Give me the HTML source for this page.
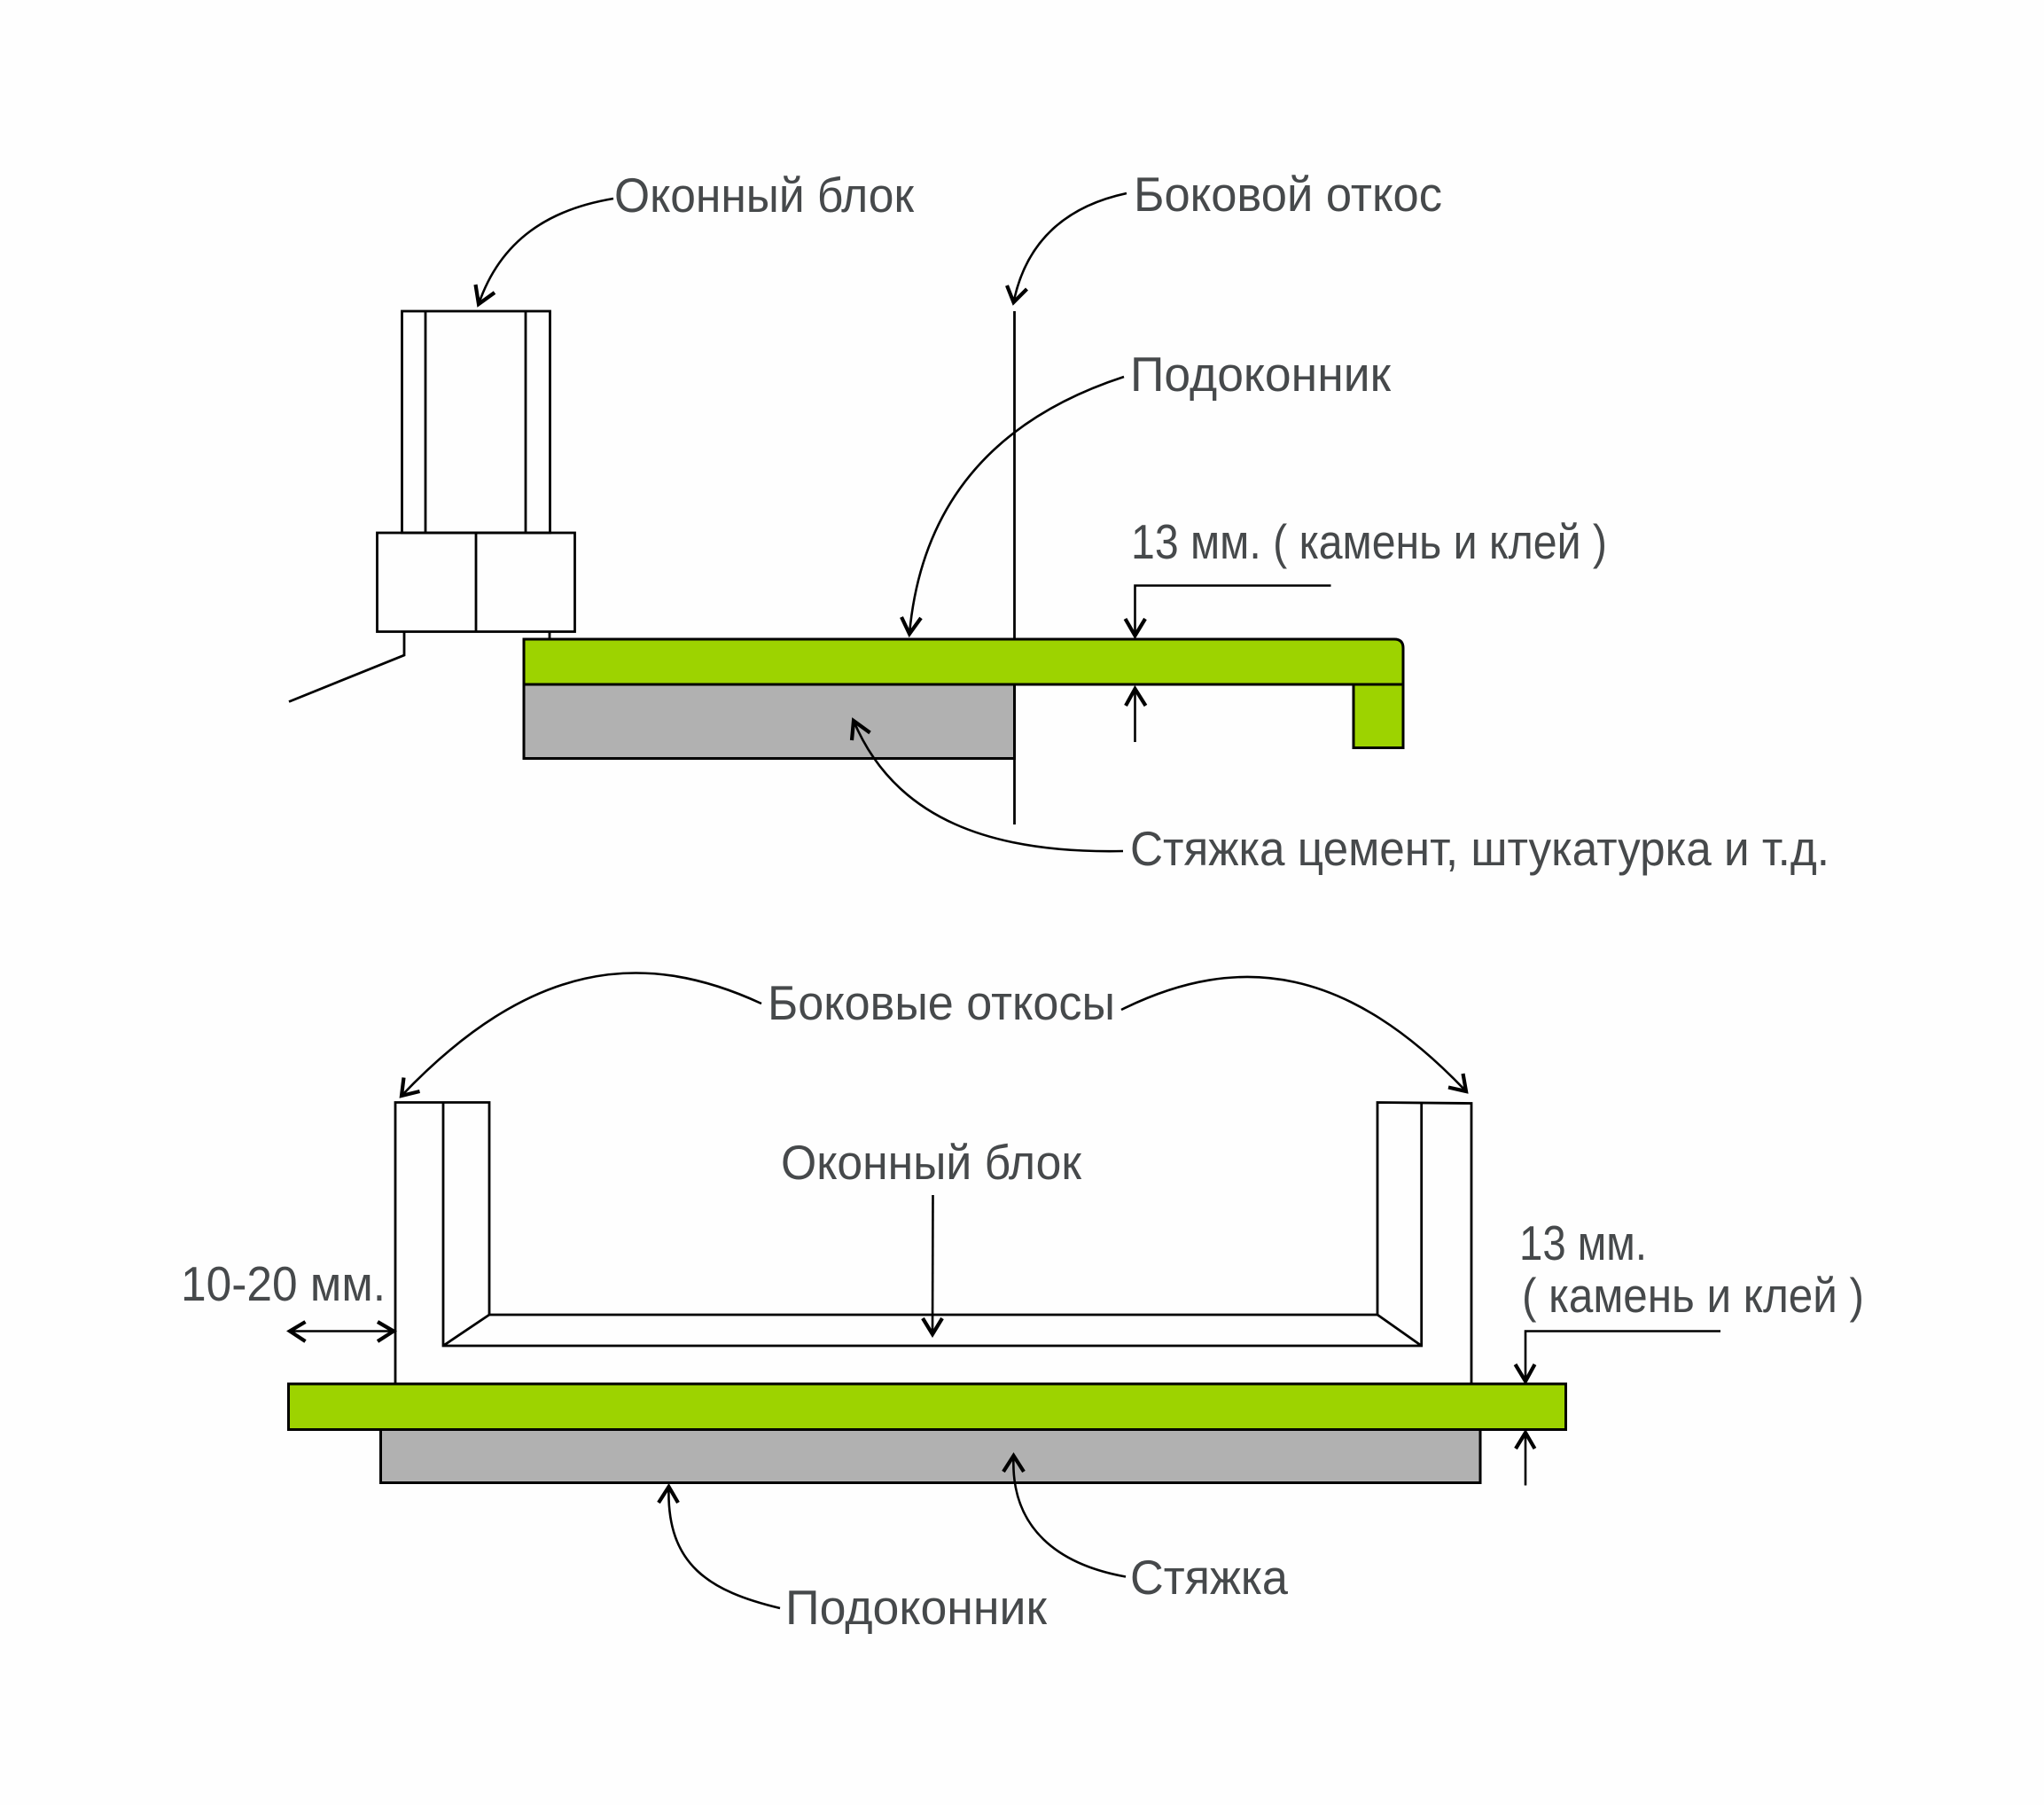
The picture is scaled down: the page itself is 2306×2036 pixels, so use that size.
<!DOCTYPE html>
<html lang="ru">
<head>
<meta charset="utf-8">
<title>Подоконник</title>
<style>
html,body{margin:0;padding:0;background:#fefefe;width:2306px;height:2036px;overflow:hidden}
svg{display:block}
text{font-family:"Liberation Sans","DejaVu Sans",sans-serif;font-size:55px;fill:#46494b}
.l{fill:none;stroke:#000;stroke-width:2.8;stroke-linecap:butt;stroke-linejoin:miter}
.a{fill:none;stroke:#000;stroke-width:2.6}
.h{fill:none;stroke:#000;stroke-width:4.2;stroke-linejoin:miter}
.g{fill:#9dd300;stroke:#000;stroke-width:3}
.y{fill:#b1b1b1;stroke:#000;stroke-width:3}
</style>
</head>
<body>
<svg width="2306" height="2036" viewBox="0 0 2306 2036" xmlns="http://www.w3.org/2000/svg">
<rect width="2306" height="2036" fill="#fefefe"/>

<!-- TOP DIAGRAM -->
<rect class="l" x="453.5" y="351" width="167" height="250" fill="none"/>
<path class="l" d="M480 351V601M593 351V601"/>
<rect class="l" x="425.5" y="601" width="223" height="111.5"/>
<path class="l" d="M537 601V712M456 712V739L326 791.5M620 712V721"/>
<path class="l" d="M1144.5 351V721M1144.5 772V930"/>
<rect class="y" x="591" y="772" width="553.5" height="83.5"/>
<path class="g" d="M591 721H1573Q1583 721 1583 731V772H591Z"/>
<path class="g" d="M1527 772H1583V843.5H1527Z"/>

<path class="a" d="M692 224C620 236 565 270 540 343"/>
<path class="h" d="M536.5 321L540 343L558 330"/>
<path class="a" d="M1271 218C1205 232 1158 270 1143.5 341"/>
<path class="h" d="M1136 322L1143.5 341L1158.5 326"/>
<path class="a" d="M1268 425C1130 470 1040 560 1026 715"/>
<path class="h" d="M1017 696L1026 715L1039 697"/>
<path class="a" d="M1267 960C1120 963 1010 925 963 813"/>
<path class="h" d="M961 835L963 813L981.5 826.5"/>
<path class="a" d="M1501.5 660.5H1280.5V717"/>
<path class="h" d="M1269.5 698L1280.5 717L1292 698"/>
<path class="a" d="M1280.5 837V777"/>
<path class="h" d="M1270 796L1280.5 777L1292.5 796"/>

<text x="693" y="239" textLength="338" lengthAdjust="spacingAndGlyphs">Оконный блок</text>
<text x="1279" y="238" textLength="348" lengthAdjust="spacingAndGlyphs">Боковой откос</text>
<text x="1275" y="441" textLength="294" lengthAdjust="spacingAndGlyphs">Подоконник</text>
<text x="1276" y="630" textLength="537" lengthAdjust="spacingAndGlyphs">13 мм. ( камень и клей )</text>
<text x="1275" y="976" textLength="789" lengthAdjust="spacingAndGlyphs">Стяжка цемент, штукатурка и т.д.</text>

<!-- BOTTOM DIAGRAM -->
<path class="l" d="M446 1561V1243.5H552V1483H1554V1243.5L1660 1244.5V1561"/>
<path class="l" d="M500 1243.5V1518H1603.7V1244M500 1518L552 1483M1603.7 1518L1554 1483"/>
<rect class="y" x="429.5" y="1612" width="1240.5" height="60.5"/>
<rect class="g" x="325.5" y="1561" width="1441" height="51.5"/>

<path class="a" d="M859 1132C725 1070 598 1084 453 1236"/>
<path class="h" d="M455.5 1215.5L453 1236L473.5 1231"/>
<path class="a" d="M1265 1139C1400 1072 1522 1092 1654 1231"/>
<path class="h" d="M1634 1226.5L1654 1231L1650.5 1211"/>
<path class="a" d="M1052.5 1348L1052 1505"/>
<path class="h" d="M1041 1487L1052 1505L1063 1487"/>
<path class="a" d="M328 1501.5H443"/>
<path class="h" d="M344.5 1491L327 1501.5L344.5 1513M426 1491L444 1501.5L426 1513"/>
<path class="a" d="M880 1814C800 1795 752 1765 754.5 1678"/>
<path class="h" d="M743 1695L754.5 1677L765 1695"/>
<path class="a" d="M1270 1778.5C1195 1765 1140 1725 1143.5 1643"/>
<path class="h" d="M1132 1660L1143.5 1642L1155 1660"/>
<path class="a" d="M1941 1501.5H1721V1557"/>
<path class="h" d="M1709.5 1539L1721 1558L1731.5 1539"/>
<path class="a" d="M1721 1675.5V1617"/>
<path class="h" d="M1710 1634L1721 1616L1731.5 1634"/>

<text x="866" y="1150" textLength="392" lengthAdjust="spacingAndGlyphs">Боковые откосы</text>
<text x="881" y="1330" textLength="339" lengthAdjust="spacingAndGlyphs">Оконный блок</text>
<text x="204" y="1467" textLength="231" lengthAdjust="spacingAndGlyphs">10-20 мм.</text>
<text x="1714" y="1421" textLength="144" lengthAdjust="spacingAndGlyphs">13 мм.</text>
<text x="1717" y="1480" textLength="386" lengthAdjust="spacingAndGlyphs">( камень и клей )</text>
<text x="886" y="1832" textLength="295" lengthAdjust="spacingAndGlyphs">Подоконник</text>
<text x="1275" y="1798" textLength="178" lengthAdjust="spacingAndGlyphs">Стяжка</text>
</svg>
</body>
</html>
